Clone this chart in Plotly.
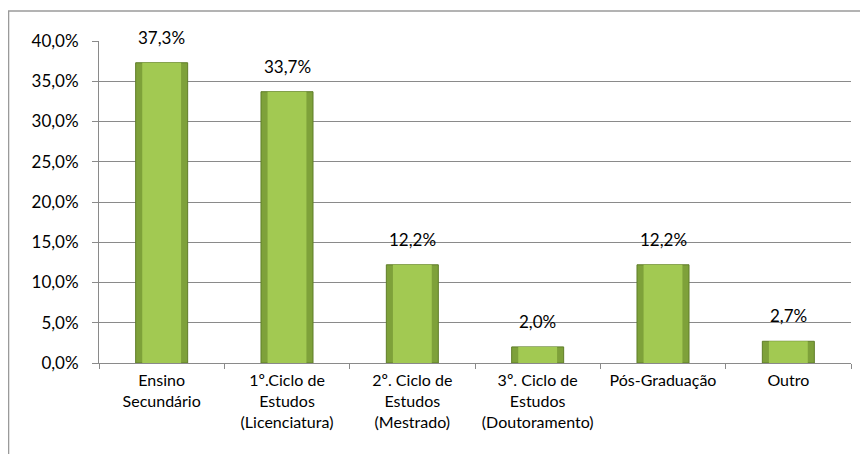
import plotly.graph_objects as go

categories = ["Ensino<br>Secundário", "1º.Ciclo de<br>Estudos<br>(Licenciatura)",
              "2º. Ciclo de<br>Estudos<br>(Mestrado)", "3º. Ciclo de<br>Estudos<br>(Doutoramento)",
              "Pós-Graduação", "Outro"]
values = [37.3, 33.7, 12.2, 2.0, 12.2, 2.7]
tick_vals = [0, 5, 10, 15, 20, 25, 30, 35, 40]

labels = [f"{v:.1f}".replace(".", ",") + "%" for v in values]
tick_text = [f"{v:.1f}".replace(".", ",") + "%" for v in tick_vals]
FONT = "Lato, Open Sans, sans-serif"

fig = go.Figure()
fig.add_trace(go.Bar(x=categories, y=values, width=0.415,
                     marker=dict(color="#7ea13a", line=dict(color="#5f7d28", width=1)),
                     hoverinfo="skip"))
fig.add_trace(go.Bar(x=categories, y=values, width=0.31,
                     marker=dict(color="#a2c952", line=dict(width=0)),
                     hoverinfo="skip"))

for c, v, t in zip(categories, values, labels):
    fig.add_annotation(x=c, y=v, text=t, showarrow=False, yanchor="bottom",
                       yshift=13, font=dict(family=FONT, size=17, color="#000"))

fig.add_shape(type="rect", xref="paper", yref="paper",
              x0=-0.1203, x1=1.03, y0=-0.30, y1=1.0932,
              line=dict(color="#9a9a9a", width=1.5), fillcolor="rgba(0,0,0,0)", layer="below")

fig.update_layout(
    width=860, height=446,
    margin=dict(l=91, r=17, t=33, b=91, autoexpand=False),
    paper_bgcolor="white", plot_bgcolor="white",
    barmode="overlay", showlegend=False,
    font=dict(family=FONT, size=16, color="#000"),
)
fig.update_yaxes(range=[0, 40], tickvals=tick_vals, ticktext=tick_text,
                 showgrid=True, gridcolor="#8a8a8a", gridwidth=1,
                 showline=True, linecolor="#8a8a8a", linewidth=1,
                 ticks="outside", ticklen=6, tickcolor="#8a8a8a", zeroline=False,
                 tickfont=dict(size=17), ticklabelstandoff=10, automargin=False)
fig.update_xaxes(showline=True, linecolor="#8a8a8a", linewidth=1,
                 ticks="outside", ticklen=5, tickcolor="#8a8a8a", tickson="boundaries",
                 tickfont=dict(size=16), tickangle=0, ticklabelstandoff=3, automargin=False)

fig.write_html("out.html")
